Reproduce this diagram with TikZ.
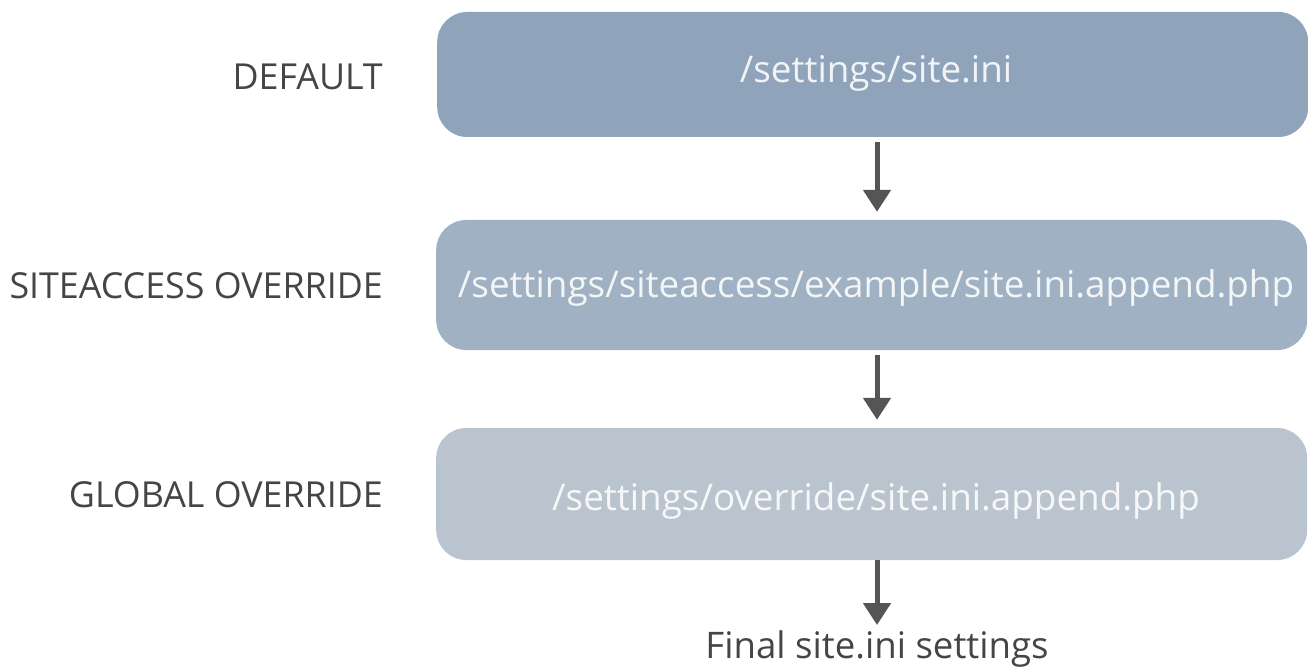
\documentclass[tikz,border=0pt]{standalone}
\usepackage{fontspec}
\setmainfont{Open Sans}
\usetikzlibrary{arrows.meta}
\definecolor{boxA}{HTML}{8FA4BA}
\definecolor{boxB}{HTML}{9FB1C3}
\definecolor{boxC}{HTML}{B9C4CF}
\definecolor{labelgray}{HTML}{454545}
\definecolor{arrowgray}{HTML}{555555}
\begin{document}
\begin{tikzpicture}[x=1pt,y=-1pt,
  box/.style={rounded corners=30pt, inner sep=0pt, minimum width=871pt, anchor=west},
  boxtext/.style={text=white, text opacity=0.88, anchor=base, inner sep=0pt, font=\fontsize{36.8}{44}\selectfont},
  lbl/.style={text=labelgray, anchor=base east, inner sep=0pt, font=\fontsize{35.8}{43}\selectfont},
  flow/.style={draw=arrowgray, line width=5pt, -{Triangle[width=27pt,length=22pt]}}
]
\useasboundingbox (0,0) rectangle (1308,668);
\node[box, fill=boxA, minimum height=125pt] (b1) at (437,74.5) {};
\node[box, fill=boxB, minimum height=130pt] (b2) at (436,285) {};
\node[box, fill=boxC, minimum height=132pt] (b3) at (436,494) {};
\node[boxtext] (t1) at (876,83) {/settings/site.ini};
\node[boxtext] (t2) at (876,297) {/settings/siteaccess/example/site.ini.append.php};
\node[boxtext] (t3) at (876,510) {/settings/override/site.ini.append.php};
\node[lbl] (l1) at (383,90) {DEFAULT};
\node[lbl] (l2) at (383,298) {SITEACCESS OVERRIDE};
\node[lbl] (l3) at (383,507) {GLOBAL OVERRIDE};
\node[text=labelgray, anchor=base, inner sep=0pt, font=\fontsize{36.6}{44}\selectfont] (fin) at (877,658) {Final site.ini settings};
\coordinate (e3) at (877,625);
\draw[flow, shorten <=5pt, shorten >=8pt] (b1.south -| fin) -- (b2.north -| fin);
\draw[flow, shorten <=5pt, shorten >=8pt] (b2.south -| fin) -- (b3.north -| fin);
\draw[flow, shorten <=0pt] (b3.south -| fin) -- (e3);
\end{tikzpicture}
\end{document}
